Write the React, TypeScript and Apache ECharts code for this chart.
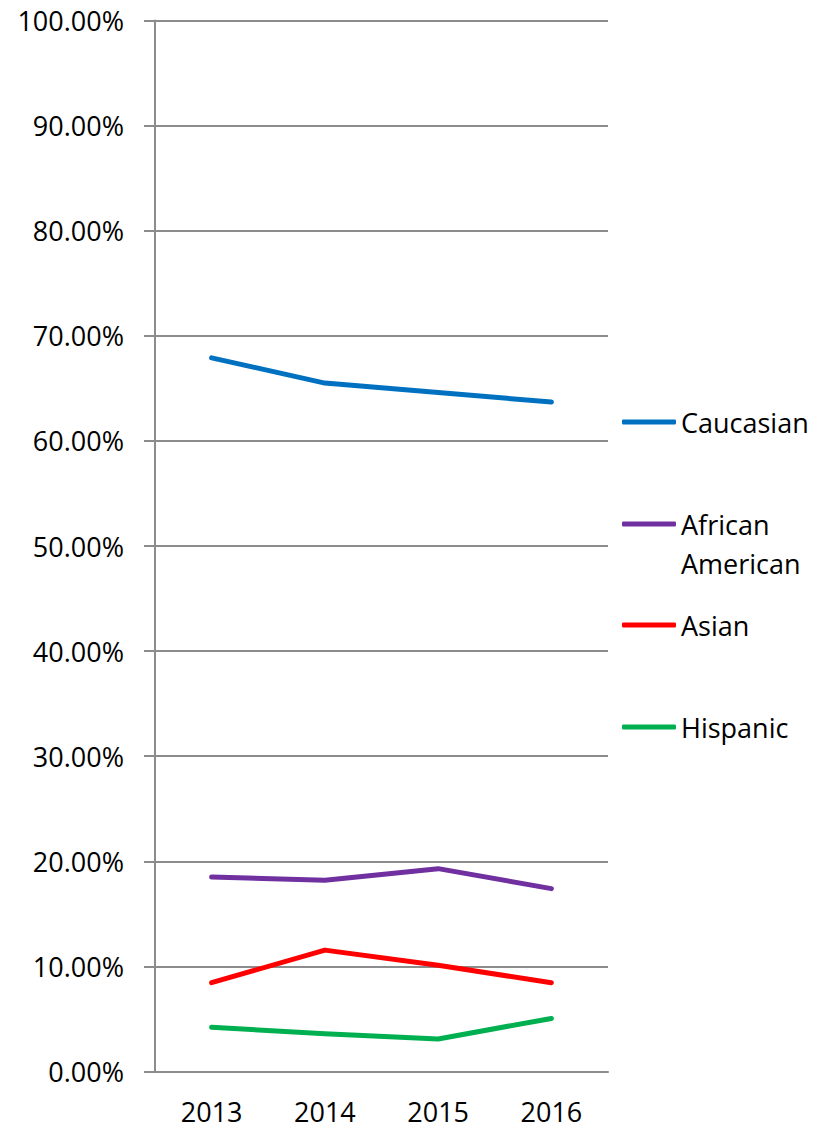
import React, { useEffect, useRef } from "react";
import * as echarts from "echarts";

const years = ["2013", "2014", "2015", "2016"];
const caucasian = [67.9, 65.5, 64.6, 63.7];
const africanAmerican = [18.5, 18.2, 19.3, 17.4];
const asian = [8.45, 11.55, 10.1, 8.45];
const hispanic = [4.2, 3.6, 3.1, 5.05];
const yTicks = { min: 0, max: 100, interval: 10 };

const FONT = "Open Sans";
const GRAY = "#8c8c8c";

export default function App() {
  const ref = useRef<HTMLDivElement>(null);
  useEffect(() => {
    if (!ref.current) return;
    const chart = echarts.init(ref.current, undefined, { renderer: "svg" });
    const mk = (name: string, data: number[], color: string) => ({
      name,
      type: "line",
      data,
      symbol: "none",
      lineStyle: { width: 5, color, cap: "round", join: "round" },
      itemStyle: { color },
    });
    const legendBase = {
      orient: "vertical",
      left: 622,
      padding: 0,
      icon: "roundRect",
      itemWidth: 54,
      itemHeight: 5,
      textStyle: { fontFamily: FONT, fontSize: 27, color: "#000" },
      selectedMode: false,
    };
    chart.setOption({
      animation: false,
      grid: { left: 155, right: 216, top: 20.5, bottom: 56.5, containLabel: false, outerBoundsMode: "none" },
      xAxis: {
        type: "category",
        data: years,
        boundaryGap: true,
        axisLine: { lineStyle: { color: GRAY, width: 2 } },
        axisTick: { length: 10, lineStyle: { color: GRAY, width: 2 } },
        axisLabel: { fontFamily: FONT, fontSize: 27, color: "#000", margin: 26 },
      },
      yAxis: {
        type: "value",
        min: yTicks.min,
        max: yTicks.max,
        interval: yTicks.interval,
        axisLine: { show: true, lineStyle: { color: GRAY, width: 2 } },
        axisTick: { show: true, length: 11, lineStyle: { color: GRAY, width: 2 } },
        splitLine: { lineStyle: { color: GRAY, width: 2 } },
        axisLabel: {
          fontFamily: FONT,
          fontSize: 27,
          color: "#000",
          margin: 31,
          formatter: (v: number) => v.toFixed(2) + "%",
        },
      },
      legend: [
        { ...legendBase, top: 422 - 13.5, data: ["Caucasian"] },
        {
          ...legendBase,
          top: 524 - 52.5,
          data: ["African American"],
          formatter: () => "{p| }\n{a|African}\n{a|American}",
          textStyle: {
            fontFamily: FONT,
            fontSize: 27,
            color: "#000",
            rich: {
              p: { fontFamily: FONT, fontSize: 27, lineHeight: 39 },
              a: { fontFamily: FONT, fontSize: 27, lineHeight: 39, color: "#000" },
            },
          },
        },
        { ...legendBase, top: 625 - 13.5, data: ["Asian"] },
        { ...legendBase, top: 727 - 13.5, data: ["Hispanic"] },
      ],
      series: [
        mk("Caucasian", caucasian, "#0070C0"),
        mk("African American", africanAmerican, "#7030A0"),
        mk("Asian", asian, "#FF0000"),
        mk("Hispanic", hispanic, "#00B050"),
      ],
    });
    return () => chart.dispose();
  }, []);
  return (
    <div
      ref={ref}
      style={{ position: "fixed", left: 0, top: 0, width: 824, height: 1128, background: "#fff" }}
    />
  );
}
